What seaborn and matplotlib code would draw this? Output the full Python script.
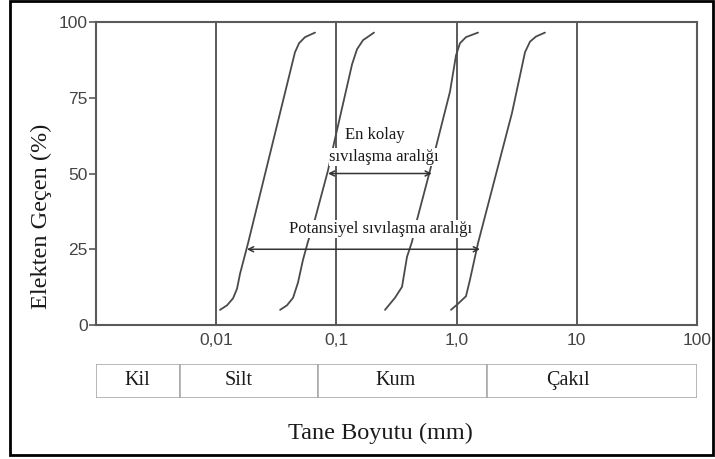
import numpy as np
import pandas as pd
import matplotlib
matplotlib.use('Agg')
import matplotlib.pyplot as plt
import seaborn as sns
from matplotlib.patches import Rectangle

# grain size curves (mm, % passing)
egri1_d = [0.01075, 0.0123, 0.0138, 0.0149, 0.0158, 0.0184, 0.0452, 0.0489, 0.0548, 0.0664]
egri1_p = [5, 6.5, 8.8, 12, 17, 27, 90, 93, 95, 96.5]
egri2_d = [0.0340, 0.0388, 0.0436, 0.0479, 0.0527, 0.0580, 0.0664, 0.0851, 0.0955, 0.1349, 0.1484, 0.1665, 0.2055]
egri2_p = [5, 6.5, 9, 14, 21.5, 27.5, 35, 51, 60, 86, 91, 94, 96.5]
egri3_d = [0.2537, 0.3073, 0.3514, 0.3867, 0.4256, 0.4683, 0.601, 0.881, 0.989, 1.067, 1.197, 1.507]
egri3_p = [5, 9, 12.6, 22.5, 27.5, 34.7, 51, 77, 89, 93, 95, 96.5]
egri4_d = [0.898, 1.027, 1.197, 1.293, 1.507, 2.890, 3.707, 4.079, 4.577, 5.437]
egri4_p = [5, 7, 9.5, 15, 27, 70, 90, 93.5, 95.2, 96.5]

# vertical guide lines and tick labels
dikey_cizgiler = [0.01, 0.1, 1, 10]
x_ticks = [0.01, 0.1, 1, 10, 100]
x_tick_labels = ['0,01', '0,1', '1,0', '10', '100']
y_ticks = [0, 25, 50, 75, 100]

# arrows: (x start, x end, y)
ok_kolay = (0.0851, 0.622, 50)
ok_potansiyel = (0.0180, 1.565, 25)

# soil classes under the chart
siniflar = ['Kil', 'Silt', 'Kum', 'Çakıl']
sinif_sinirlari = [0.001, 0.005, 0.07, 1.8, 100]
sinif_yazi_x = [0.00219, 0.0155, 0.313, 8.45]

df = pd.concat([
    pd.DataFrame({'d': egri1_d, 'p': egri1_p, 'egri': 1}),
    pd.DataFrame({'d': egri2_d, 'p': egri2_p, 'egri': 2}),
    pd.DataFrame({'d': egri3_d, 'p': egri3_p, 'egri': 3}),
    pd.DataFrame({'d': egri4_d, 'p': egri4_p, 'egri': 4}),
])

sns.set_theme(style='white')
plt.rcParams['font.family'] = ['Liberation Sans', 'DejaVu Sans']
serif = ['Liberation Serif', 'DejaVu Serif']
gri = '#5a5a5a'
yazi = '#1a1a1a'

fig = plt.figure(figsize=(7.15, 4.59), dpi=100)
ax = fig.add_axes([0.1343, 0.2919, 0.8405, 0.6602])

for x in dikey_cizgiler:
    ax.axvline(x, color=gri, lw=1.4, zorder=1)

sns.lineplot(data=df, x='d', y='p', units='egri', estimator=None, sort=False,
             color='#4a4a4a', lw=1.3, ax=ax, zorder=3)

ax.set_xscale('log')
ax.set_xlim(0.001, 100)
ax.set_ylim(0, 100)
ax.set_xticks(x_ticks)
ax.set_xticklabels(x_tick_labels)
ax.minorticks_off()
ax.set_yticks(y_ticks)
ax.tick_params(axis='x', length=0, pad=6, labelsize=12.5, labelcolor='#444444')
ax.tick_params(axis='y', left=True, length=5, width=1.2, color=gri, pad=1,
               labelsize=12.5, labelcolor='#444444')
ax.set_xlabel('')
ax.set_ylabel('')
for s in ax.spines.values():
    s.set_color(gri)
    s.set_linewidth(1.5)

arrow_kw = dict(arrowstyle='<->', color='#333333', lw=1.1, mutation_scale=9,
                shrinkA=0, shrinkB=0)
ax.annotate('', xy=(ok_kolay[0], ok_kolay[2]), xytext=(ok_kolay[1], ok_kolay[2]),
            arrowprops=arrow_kw, zorder=5)
ax.annotate('', xy=(ok_potansiyel[0], ok_potansiyel[2]), xytext=(ok_potansiyel[1], ok_potansiyel[2]),
            arrowprops=arrow_kw, zorder=5)

kutu = dict(boxstyle='square,pad=0.05', facecolor='white', edgecolor='none')
ax.text(0.209, 62.7, 'En kolay', family=serif, fontsize=12, ha='center', va='center',
        color=yazi, bbox=kutu, zorder=4)
ax.text(0.25, 55.5, 'sıvılaşma aralığı', family=serif, fontsize=12, ha='center', va='center',
        color=yazi, bbox=kutu, zorder=4)
ax.text(0.231, 31.7, 'Potansiyel sıvılaşma aralığı', family=serif, fontsize=12, ha='center',
        va='center', color=yazi, bbox=kutu, zorder=4)

# class table
tx = fig.add_axes([0.1343, 0.1329, 0.8405, 0.0741])
tx.set_xscale('log')
tx.set_xlim(0.001, 100)
tx.set_ylim(0, 1)
sol = sinif_sinirlari[:-1]
sag = sinif_sinirlari[1:]
tx.barh([0.5] * len(siniflar), [b - a for a, b in zip(sol, sag)], left=sol, height=1,
        color='white', edgecolor='#aaaaaa', linewidth=1.2)
for ad, x in zip(siniflar, sinif_yazi_x):
    tx.text(x, 0.5, ad, family=serif, fontsize=14.5, ha='center', va='center', color=yazi)
tx.axis('off')

fig.text(380 / 715, 1 - 433 / 459, 'Tane Boyutu (mm)', family=serif, fontsize=17.5,
         ha='center', va='center', color=yazi)
fig.text(41 / 715, 1 - 216 / 459, 'Elekten Geçen (%)', family=serif, fontsize=17.5,
         ha='center', va='center', rotation=90, color=yazi)

fig.patches.append(Rectangle((10 / 715, 4 / 459), 703 / 715, 454 / 459,
                             transform=fig.transFigure, fill=False, edgecolor='black',
                             lw=2, zorder=10))

plt.savefig('out.png', dpi=100)
